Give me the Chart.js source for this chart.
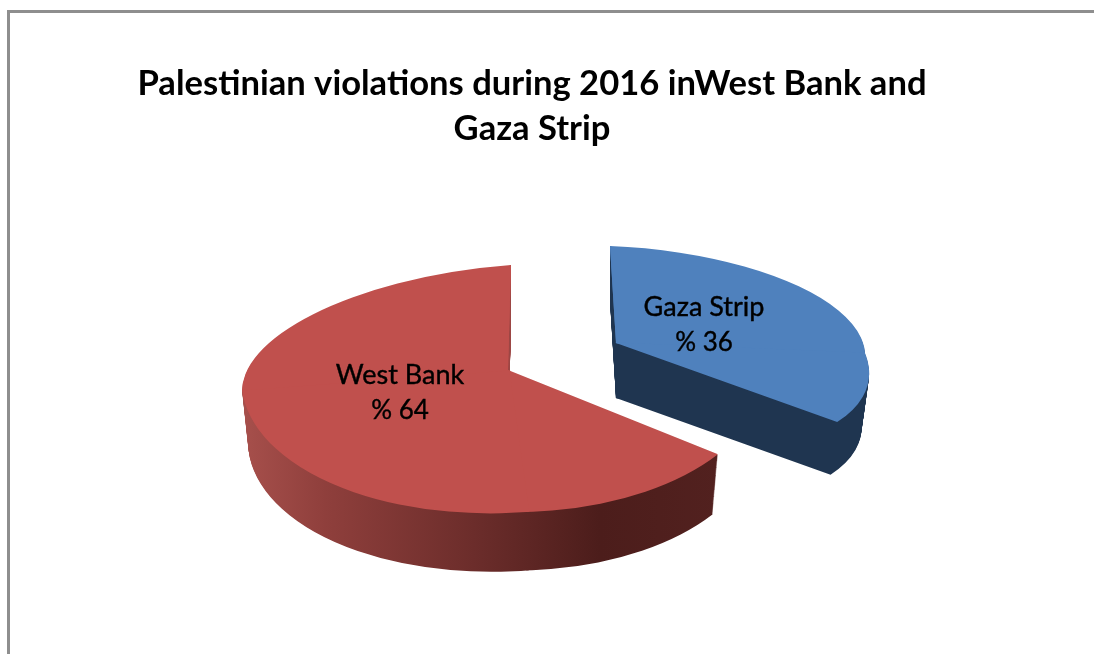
<!DOCTYPE html>
<html>
<head>
<meta charset="utf-8">
<style>
    html, body { margin: 0; padding: 0; background: #fff; overflow: hidden; }
    #frame { position: absolute; left: 7px; top: 10px; width: 1200px; height: 800px; border: 3px solid #8e8e8e; }
    #wrap { position: absolute; left: 0; top: 0; width: 1094px; height: 654px; }
</style>
</head>
<body>
<div id="frame"></div>
<div id="wrap"><canvas id="pie" width="1094" height="654"></canvas></div>
<script src="https://cdn.jsdelivr.net/npm/chart.js@4"></script>
<script>
const categories = ['Gaza Strip', 'West Bank'];
const shares = [36, 64];
const sliceColors = ['#4f81bd', '#c0504d'];
const titleLines = ['Palestinian violations during 2016 inWest Bank and', 'Gaza Strip'];

// Fake 3D: each quadrant of a slice gets its own flattening, the arcs stay Chart.js arcs
const RADIUS = 200;
const views = [
    { apex: [616, 343], right: [249, 10], left: [249, 10], up: [-6, -97], down: [46, 112], depth: [0, 55], shrink: 0.03,
      side: [[0, '#1f3550'], [1, '#1f3550']], label: [704, 316, 351] },
    { apex: [508, 370], right: [256, -8], left: [266, -20], up: [3, -105], down: [20, 142], depth: [0, 62], shrink: 0.025,
      side: [[0, '#a64f4b'], [0.17, '#8f3f3c'], [0.5, '#6a2c2a'], [0.75, '#4c1d1b'], [1, '#52211f']],
      wall: [500, 262, 20, 170, '#9c4644'], label: [400, 384, 419] }
];

function drawQuadrants(ctx, arc, view, shift, scale) {
    const m = 1;
    const big = RADIUS * 2;
    const quads = [
        { h: view.right, v: [-view.up[0], -view.up[1]], box: [-m, -big, big, big + m] },
        { h: view.right, v: view.down, box: [-m, -m, big, big] },
        { h: view.left, v: view.down, box: [-big, -m, big + m, big] },
        { h: view.left, v: [-view.up[0], -view.up[1]], box: [-big, -big, big + m, big + m] }
    ];
    quads.forEach(q => {
        const k = scale / RADIUS;
        const a = q.h[0] * k, b = q.h[1] * k, c = q.v[0] * k, d = q.v[1] * k;
        const ox = view.apex[0] + shift[0], oy = view.apex[1] + shift[1];
        ctx.save();
        ctx.setTransform(a, b, c, d, ox - a * arc.x - c * arc.y, oy - b * arc.x - d * arc.y);
        ctx.beginPath();
        ctx.rect(arc.x + q.box[0], arc.y + q.box[1], q.box[2], q.box[3]);
        ctx.clip();
        arc.draw(ctx);
        ctx.restore();
    });
}

function drawSide(ctx, arc, view, w, h) {
    const off = document.createElement('canvas');
    off.width = w;
    off.height = h;
    const o = off.getContext('2d');
    const steps = view.depth[1];
    for (let i = steps; i > 0; i--) {
        drawQuadrants(o, arc, view, [view.depth[0] * i / steps, i], 1 - view.shrink * i / steps);
    }
    // Colour the stacked layers afterwards, so the shading runs along the screen
    o.setTransform(1, 0, 0, 1, 0, 0);
    o.globalCompositeOperation = 'source-atop';
    const grad = o.createLinearGradient(245, 0, 718, 0);
    view.side.forEach(s => grad.addColorStop(s[0], s[1]));
    o.fillStyle = grad;
    o.fillRect(0, 0, w, h);
    if (view.wall) {
        o.fillStyle = view.wall[4];
        o.fillRect(view.wall[0], view.wall[1], view.wall[2], view.wall[3]);
    }
    ctx.drawImage(off, 0, 0);
}

const pie3d = {
    id: 'pie3d',
    beforeDatasetsDraw(chart) {
        const ctx = chart.ctx;
        const arcs = chart.getDatasetMeta(0).data;
        arcs.forEach((arc, i) => {
            drawSide(ctx, arc, views[i], chart.width, chart.height);
            drawQuadrants(ctx, arc, views[i], [0, 0], 1);
        });
        return false;
    },
    afterDraw(chart) {
        const ctx = chart.ctx;
        ctx.save();
        ctx.fillStyle = '#000';
        ctx.strokeStyle = '#000';
        ctx.lineWidth = 0.4;
        ctx.textAlign = 'center';
        categories.forEach((name, i) => {
            const pos = views[i].label;
            ctx.font = '27px Lato';
            ctx.fillText(name, pos[0], pos[1]);
            ctx.strokeText(name, pos[0], pos[1]);
            ctx.font = '26px Lato';
            ctx.fillText('% ' + shares[i], pos[0], pos[2]);
            ctx.strokeText('% ' + shares[i], pos[0], pos[2]);
        });
        ctx.restore();
    }
};

new Chart(document.getElementById('pie'), {
    type: 'pie',
    data: {
        labels: categories,
        datasets: [{
            data: shares,
            backgroundColor: sliceColors,
            borderWidth: 0,
            radius: RADIUS
        }]
    },
    options: {
        responsive: false,
        animation: false,
        layout: { padding: { right: 30 } },
        plugins: {
            legend: { display: false },
            tooltip: { enabled: false },
            title: {
                display: true,
                text: titleLines,
                color: '#000',
                font: { family: 'Lato', size: 34.6, weight: 'bold', lineHeight: 1.3 },
                padding: { top: 61, bottom: 0 }
            }
        }
    },
    plugins: [pie3d]
});
</script>
</body>
</html>
